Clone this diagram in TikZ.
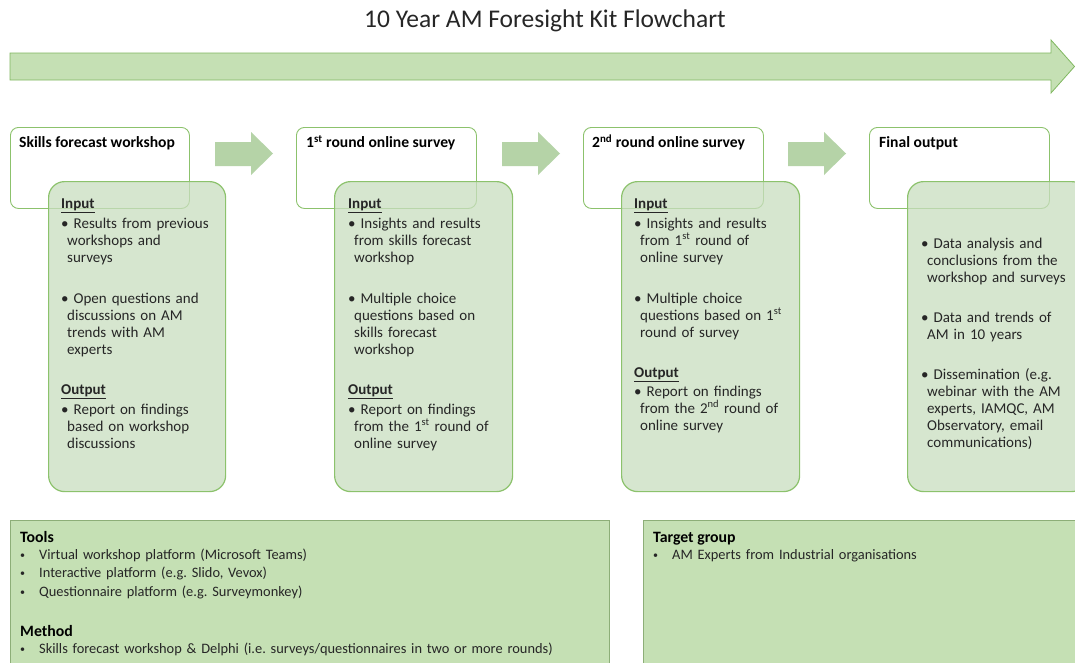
\documentclass[tikz,border=0pt]{standalone}
\usepackage{fontspec}
\setmainfont{Carlito}
\definecolor{boxline}{HTML}{8CC26C}
\definecolor{cardline}{HTML}{8CC26C}
\definecolor{cardfill}{HTML}{C9DEBF}
\definecolor{arrowfill}{HTML}{B5D3A7}
\definecolor{bigfill}{HTML}{C5E0B4}
\definecolor{bigline}{HTML}{80B860}
\definecolor{infofill}{HTML}{C5E0B4}
\definecolor{infoline}{HTML}{8DAE78}
\definecolor{txt}{HTML}{262626}
\newcommand{\cardfont}{\fontsize{15}{17}\selectfont}
\newcommand{\hdrfont}{\fontsize{15.6}{17}\selectfont\bfseries}
\newcommand{\infofont}{\fontsize{14.4}{18.5}\selectfont}
\newcommand{\infohead}{\fontsize{15.8}{18}\selectfont\bfseries}
\newcommand{\bl}{\textbullet\ }
\newcommand{\ind}{\hspace*{6pt}}
\newcommand{\sbl}{\makebox[5pt][c]{\raisebox{1pt}{\fontsize{10}{10}\selectfont\textbullet}}\hspace{14pt}}
\frenchspacing
\begin{document}
\begin{tikzpicture}[x=1pt,y=-1pt]
\tikzset{
  hdrbox/.style={draw=boxline, line width=0.9pt, rounded corners=8pt, fill=white, anchor=north west, inner sep=0pt},
  cardbox/.style={draw=cardline, line width=1.2pt, rounded corners=16pt, fill=cardfill, fill opacity=0.75, anchor=north west, inner sep=0pt},
  flowarrow/.style={fill=arrowfill, draw=none},
  infobox/.style={draw=infoline, line width=1pt, fill=infofill, anchor=north west, inner sep=0pt},
  hdrtext/.style={anchor=base west, inner sep=0pt, font=\hdrfont, text=black},
  cardtext/.style={anchor=base west, inner sep=0pt, text width=180pt, align=left, font=\cardfont, text=txt},
  infotext/.style={anchor=base west, inner sep=0pt, text width=580pt, align=left, font=\infofont, text=txt},
  infohdr/.style={anchor=base west, inner sep=0pt, font=\infohead, text=black},
}
\clip (0,0) rectangle (1075,662);
\fill[white] (0,0) rectangle (1075,662);

% title
\node[anchor=base, inner sep=0pt, font=\fontsize{25.5}{28}\selectfont, text=txt] (title) at (545,27) {10 Year AM Foresight Kit Flowchart};

% big timeline arrow
\draw[fill=bigfill, draw=bigline, line width=0.8pt, line join=miter]
  (10,53) -- (1051,53) -- (1051,40) -- (1074.5,66.5) -- (1051,93) -- (1051,80) -- (10,80) -- cycle;

% header boxes
\node[hdrbox, minimum width=179pt, minimum height=81pt] (h1) at (10,127) {};
\node[hdrbox, minimum width=180pt, minimum height=81pt] (h2) at (296,127) {};
\node[hdrbox, minimum width=180pt, minimum height=81pt] (h3) at (583,127) {};
\node[hdrbox, minimum width=180pt, minimum height=81pt] (h4) at (869,127) {};

% cards
\node[cardbox, minimum width=177pt, minimum height=310pt] (c1) at (48,181) {};
\node[cardbox, minimum width=178pt, minimum height=310pt] (c2) at (334,181) {};
\node[cardbox, minimum width=178pt, minimum height=310pt] (c3) at (621,181) {};
\node[cardbox, minimum width=180pt, minimum height=310pt] (c4) at (907,181) {};

% flow arrows
\fill[flowarrow] (215,142) -- (251,142) -- (251,132) -- (273,153.5) -- (251,175) -- (251,166) -- (215,166) -- cycle;
\fill[flowarrow] (502,142) -- (538,142) -- (538,132) -- (560,153.5) -- (538,175) -- (538,166) -- (502,166) -- cycle;
\fill[flowarrow] (788,142) -- (824,142) -- (824,132) -- (846,153.5) -- (824,175) -- (824,166) -- (788,166) -- cycle;

% header texts
\node[hdrtext] (h1t) at (19,147.5) {Skills forecast workshop};
\node[hdrtext] (h2t) at (306,147.5) {1\textsuperscript{st} round online survey};
\node[hdrtext] (h3t) at (592,147.5) {2\textsuperscript{nd} round online survey};
\node[hdrtext] (h4t) at (879,147.5) {Final output};

% card texts
\node[cardtext] (c1t) at (61,208) {\textbf{\underline{Input}}\\[3pt]
\bl Results from previous\\ \ind workshops and\\ \ind surveys\\[24pt]
\bl Open questions and\\ \ind discussions on AM\\ \ind trends with AM\\ \ind experts\\[23pt]
\textbf{\underline{Output}}\\[3pt]
\bl Report on findings\\ \ind based on workshop\\ \ind discussions};

\node[cardtext] (c2t) at (348,208) {\textbf{\underline{Input}}\\[3pt]
\bl Insights and results\\ \ind from skills forecast\\ \ind workshop\\[24pt]
\bl Multiple choice\\ \ind questions based on\\ \ind skills forecast\\ \ind workshop\\[23pt]
\textbf{\underline{Output}}\\[3pt]
\bl Report on findings\\ \ind from the 1\textsuperscript{st} round of\\ \ind online survey};

\node[cardtext] (c3t) at (634,208) {\textbf{\underline{Input}}\\[3pt]
\bl Insights and results\\ \ind from 1\textsuperscript{st} round of\\ \ind online survey\\[24pt]
\bl Multiple choice\\ \ind questions based on 1\textsuperscript{st}\\ \ind round of survey\\[23pt]
\textbf{\underline{Output}}\\[2pt]
\bl Report on findings\\ \ind from the 2\textsuperscript{nd} round of\\ \ind online survey};

\node[cardtext] (c4t) at (921,248) {\bl Data analysis and\\ \ind conclusions from the\\ \ind workshop and surveys\\[23pt]
\bl Data and trends of\\ \ind AM in 10 years\\[23pt]
\bl Dissemination (e.g.\\ \ind webinar with the AM\\ \ind experts, IAMQC, AM\\ \ind Observatory, email\\ \ind communications)};

% bottom boxes
\node[infobox, minimum width=599pt, minimum height=160pt] (tools) at (10,520) {};
\node[infobox, minimum width=450pt, minimum height=160pt] (target) at (643,520) {};

\node[infohdr] (toolsh) at (20,542.5) {Tools};
\node[infotext] (toolst) at (20,559) {\sbl Virtual workshop platform (Microsoft Teams)\\
\sbl Interactive platform (e.g. Slido, Vevox)\\
\sbl Questionnaire platform (e.g. Surveymonkey)};
\node[infohdr] (methodh) at (20,636.5) {Method};
\node[infotext] (methodt) at (20,653.5) {\sbl Skills forecast workshop \& Delphi (i.e. surveys/questionnaires in two or more rounds)};

\node[infohdr] (targeth) at (653,542.5) {Target group};
\node[infotext, text width=400pt] (targett) at (653,559) {\sbl AM Experts from Industrial organisations};
\end{tikzpicture}
\end{document}
